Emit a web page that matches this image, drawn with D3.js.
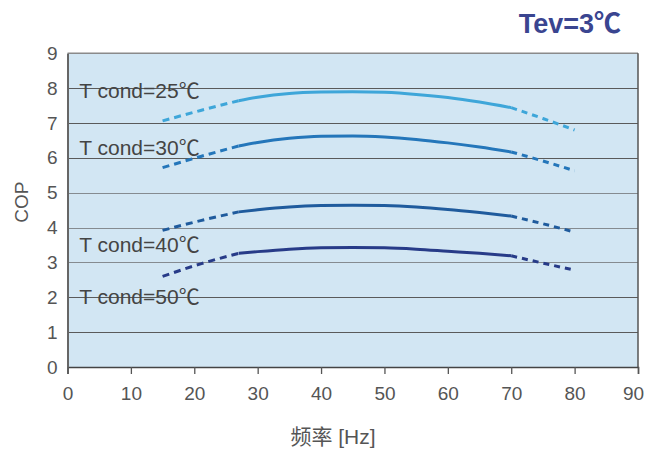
<!DOCTYPE html>
<html>
<head>
<meta charset="utf-8">
<script src="https://cdn.jsdelivr.net/npm/d3@7/dist/d3.min.js"></script>
<style>
  body { margin: 0; background: #fff; }
  text { font-family: "Liberation Sans", Arial, "Noto Sans CJK SC", sans-serif; }
</style>
</head>
<body>
<div id="chart"></div>
<script>
// Frequency (Hz) points of the curves
const freqLow = [15, 21, 27];           // dashed start section
const freqMid = [27, 30, 35, 40, 45, 50, 55, 60, 65, 70]; // solid section
const freqHigh = [70, 75, 80];          // dashed end section

// COP values per condensing temperature
const series = ["T cond=25℃", "T cond=30℃", "T cond=40℃", "T cond=50℃"];
const copLow = [
    [7.06, 7.36, 7.64],
    [5.72, 6.04, 6.34],
    [3.92, 4.20, 4.45],
    [2.60, 2.96, 3.26]
];
const copMid = [
    [7.64, 7.74, 7.85, 7.89, 7.90, 7.88, 7.82, 7.73, 7.60, 7.44],
    [6.34, 6.44, 6.56, 6.62, 6.63, 6.60, 6.53, 6.43, 6.31, 6.17],
    [4.45, 4.51, 4.59, 4.63, 4.64, 4.63, 4.59, 4.52, 4.43, 4.33],
    [3.26, 3.31, 3.38, 3.42, 3.43, 3.42, 3.38, 3.32, 3.26, 3.19]
];
const copHigh = [
    [7.44, 7.13, 6.80],
    [6.17, 5.91, 5.63],
    [4.33, 4.11, 3.87],
    [3.19, 2.98, 2.78]
];
const colors = ["#3ea6d9", "#2476ba", "#1f5b9d", "#273b88"];
const xTicks = [0, 10, 20, 30, 40, 50, 60, 70, 80, 90];
const yTicks = [0, 1, 2, 3, 4, 5, 6, 7, 8, 9];
// label anchor values (frequency, COP)
const labelPos = [[1.85, 7.72], [1.85, 6.07], [1.85, 3.30], [1.85, 1.81]];

const width = 646, height = 452;
const margin = { left: 67.5, right: 8, top: 53.3, bottom: 85 };

const svg = d3.select("#chart")
    .append("svg")
    .attr("width", width)
    .attr("height", height);

const x = d3.scaleLinear().domain([0, 90]).range([margin.left, width - margin.right]);
const y = d3.scaleLinear().domain([0, 9]).range([height - margin.bottom, margin.top]);

// plot background
svg.append("rect")
    .attr("x", x(0))
    .attr("y", y(9))
    .attr("width", x(90) - x(0))
    .attr("height", y(0) - y(9))
    .attr("fill", "#d2e6f3");

// horizontal grid lines
svg.append("g")
    .selectAll("line")
    .data(yTicks.filter(d => d > 0 && d < 9))
    .join("line")
    .attr("x1", x(0))
    .attr("x2", x(90))
    .attr("y1", d => Math.round(y(d)) + 0.5)
    .attr("y2", d => Math.round(y(d)) + 0.5)
    .attr("stroke", d => (d >= 3 && d <= 5) ? "#858b90" : "#5a5a5a")
    .attr("stroke-width", 1.2);

// frame top and right
svg.append("line")
    .attr("x1", x(0)).attr("x2", x(90))
    .attr("y1", y(9)).attr("y2", y(9))
    .attr("stroke", "#8a8a8a").attr("stroke-width", 1.5);
svg.append("line")
    .attr("x1", x(90)).attr("x2", x(90))
    .attr("y1", y(9)).attr("y2", y(0))
    .attr("stroke", "#555").attr("stroke-width", 1.5);

// x axis
const xAxis = svg.append("g")
    .attr("transform", `translate(0,${y(0)})`)
    .call(d3.axisBottom(x).tickValues(xTicks).tickSize(7).tickPadding(13));
xAxis.select(".domain").attr("stroke", "#444").attr("stroke-width", 1.5);
xAxis.selectAll(".tick line").attr("stroke", "#555").attr("stroke-width", 1.3);
xAxis.selectAll(".tick text")
    .attr("fill", "#555")
    .style("font-size", "19px")
    .style("font-family", "Liberation Sans, Arial, sans-serif");
// keep the last label inside the window
xAxis.selectAll(".tick text").filter(d => d === 90).attr("dx", "-5");

// y axis
const yAxis = svg.append("g")
    .attr("transform", `translate(${x(0)},0)`)
    .call(d3.axisLeft(y).tickValues(yTicks).tickSize(0).tickPadding(10));
yAxis.select(".domain").attr("stroke", "#666").attr("stroke-width", 2);
yAxis.selectAll(".tick text")
    .attr("fill", "#555")
    .style("font-size", "19px")
    .style("font-family", "Liberation Sans, Arial, sans-serif");

// axis titles
svg.append("text")
    .attr("transform", `translate(28,${(y(0) + y(9)) / 2 - 8}) rotate(-90)`)
    .attr("text-anchor", "middle")
    .attr("fill", "#555")
    .style("font-size", "19px")
    .text("COP");

svg.append("text")
    .attr("x", 333)
    .attr("y", 444)
    .attr("text-anchor", "middle")
    .attr("fill", "#555")
    .style("font-size", "21px")
    .text("频率 [Hz]");

svg.append("text")
    .attr("x", 621)
    .attr("y", 33)
    .attr("text-anchor", "end")
    .attr("fill", "#3a4590")
    .style("font-size", "27px")
    .style("font-weight", "bold")
    .text("Tev=3℃");

// curves
const line = d3.line()
    .x(d => x(d[0]))
    .y(d => y(d[1]))
    .curve(d3.curveMonotoneX);

series.forEach((name, i) => {
    const g = svg.append("g");
    g.append("path")
        .attr("d", line(freqLow.map((f, j) => [f, copLow[i][j]])))
        .attr("fill", "none")
        .attr("stroke", colors[i])
        .attr("stroke-width", 3)
        .attr("stroke-dasharray", "7,5");
    g.append("path")
        .attr("d", line(freqMid.map((f, j) => [f, copMid[i][j]])))
        .attr("fill", "none")
        .attr("stroke", colors[i])
        .attr("stroke-width", 3);
    g.append("path")
        .attr("d", line(freqHigh.map((f, j) => [f, copHigh[i][j]])))
        .attr("fill", "none")
        .attr("stroke", colors[i])
        .attr("stroke-width", 3)
        .attr("stroke-dasharray", "6,5");

    svg.append("text")
        .attr("x", x(labelPos[i][0]))
        .attr("y", y(labelPos[i][1]))
        .attr("fill", "#444")
        .style("font-size", "21px")
        .text(name);
});
</script>
</body>
</html>
